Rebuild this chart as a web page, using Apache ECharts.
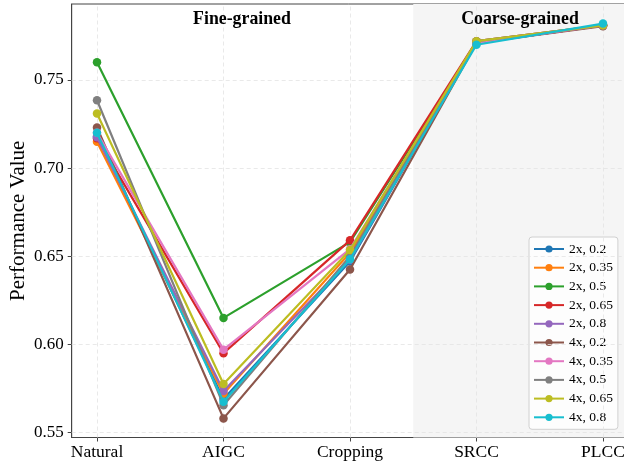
<!DOCTYPE html>
<html>
<head>
<meta charset="utf-8">
<script src="https://cdn.jsdelivr.net/npm/echarts@6/dist/echarts.min.js"></script>
<style>html,body{margin:0;padding:0;background:#fff}#c{width:624px;height:463px}</style>
</head>
<body>
<div id="c"></div>
<script>
const categories = ['Natural', 'AIGC', 'Cropping', 'SRCC', 'PLCC'];
const seriesNames = ['2x, 0.2', '2x, 0.35', '2x, 0.5', '2x, 0.65', '2x, 0.8', '4x, 0.2', '4x, 0.35', '4x, 0.5', '4x, 0.65', '4x, 0.8'];
const v2x_020 = [0.718, 0.569, 0.647, 0.771, 0.781];
const v2x_035 = [0.715, 0.572, 0.652, 0.771, 0.781];
const v2x_050 = [0.760, 0.615, 0.658, 0.771, 0.781];
const v2x_065 = [0.717, 0.595, 0.659, 0.772, 0.781];
const v2x_080 = [0.7175, 0.5735, 0.648, 0.771, 0.781];
const v4x_020 = [0.723, 0.558, 0.6425, 0.771, 0.7805];
const v4x_035 = [0.720, 0.597, 0.654, 0.771, 0.781];
const v4x_050 = [0.7385, 0.5655, 0.650, 0.772, 0.781];
const v4x_065 = [0.731, 0.5775, 0.6535, 0.772, 0.781];
const v4x_080 = [0.720, 0.5675, 0.6483, 0.770, 0.782];
const yTicks = [0.55, 0.60, 0.65, 0.70, 0.75];
const groupLabels = ['Fine-grained', 'Coarse-grained'];
const colors = ['#1f77b4', '#ff7f0e', '#2ca02c', '#d62728', '#9467bd', '#8c564b', '#e377c2', '#7f7f7f', '#bcbd22', '#17becf'];

const allValues = [v2x_020, v2x_035, v2x_050, v2x_065, v2x_080, v4x_020, v4x_035, v4x_050, v4x_065, v4x_080];
const xIdx = categories.map((c, i) => i);
const serif = 'Liberation Serif, Times New Roman, serif';
const gridLineStyle = { color: '#e3e3e3', type: [4, 3], width: 0.8 };

const lineSeries = allValues.map((vals, k) => ({
  name: seriesNames[k],
  type: 'line',
  data: vals.map((v, i) => [i, v]),
  color: colors[k],
  lineStyle: { width: 2.2 },
  symbol: 'circle',
  symbolSize: 8.5,
  z: 10 + k,
  emphasis: { disabled: true },
  animation: false
}));

const bgSeries = {
  type: 'line', data: [], silent: true, z: 1,
  markArea: {
    silent: true,
    itemStyle: { color: '#f5f5f5' },
    data: [[{ xAxis: 2.5 }, { xAxis: 4.2 }]]
  }
};
const gridSeries = {
  type: 'line', data: [], silent: true, z: 2,
  markLine: {
    silent: true, symbol: 'none', label: { show: false },
    lineStyle: gridLineStyle,
    data: xIdx.map(i => ({ xAxis: i })).concat(yTicks.map(v => ({ yAxis: v })))
  }
};

const chart = echarts.init(document.getElementById('c'));
chart.setOption({
  animation: false,
  grid: { left: 71.7, top: 4, width: 556.6, height: 433.5, outerBoundsMode: 'none', containLabel: false, show: true, borderColor: '#444', borderWidth: 1, backgroundColor: 'transparent' },
  xAxis: {
    type: 'value', min: -0.2, max: 4.2,
    axisLine: { show: true, onZero: false, lineStyle: { color: '#444', width: 1 } },
    axisTick: { show: true, length: 4, customValues: xIdx, lineStyle: { color: '#444' } },
    axisLabel: { customValues: xIdx, formatter: v => categories[Math.round(v)], color: '#000', fontFamily: serif, fontSize: 17.5, margin: 6 },
    splitLine: { show: false }
  },
  yAxis: {
    type: 'value', min: 0.54716, max: 0.7931,
    name: 'Performance Value', nameLocation: 'middle', nameGap: 43, nameMoveOverlap: false,
    nameTextStyle: { fontFamily: serif, fontSize: 21, color: '#000' },
    axisLine: { show: true, onZero: false, lineStyle: { color: '#444', width: 1 } },
    axisTick: { show: true, length: 4, customValues: yTicks, lineStyle: { color: '#444' } },
    axisLabel: { customValues: yTicks, formatter: v => v.toFixed(2), color: '#000', fontFamily: serif, fontSize: 17, margin: 8 },
    splitLine: { show: false }
  },
  legend: {
    data: seriesNames,
    orient: 'vertical',
    left: 529, top: 237,
    padding: [5, 5, 5, 4],
    backgroundColor: 'rgba(255,255,255,0.8)',
    borderColor: '#d0d0d0', borderWidth: 1, borderRadius: 3,
    itemWidth: 30, itemHeight: 9, itemGap: 4.7,
    textStyle: { fontFamily: serif, fontSize: 13.5, color: '#000', lineHeight: 14 },
    selectedMode: false
  },
  graphic: [
    { type: 'text', x: 242, y: 19, style: { text: groupLabels[0], fontFamily: serif, fontSize: 17.8, fontWeight: 'bold', fill: '#000', align: 'center', verticalAlign: 'middle' }, z: 100 },
    { type: 'text', x: 520, y: 19, style: { text: groupLabels[1], fontFamily: serif, fontSize: 17.8, fontWeight: 'bold', fill: '#000', align: 'center', verticalAlign: 'middle' }, z: 100 }
  ],
  series: [bgSeries, gridSeries].concat(lineSeries)
});
</script>
</body>
</html>
